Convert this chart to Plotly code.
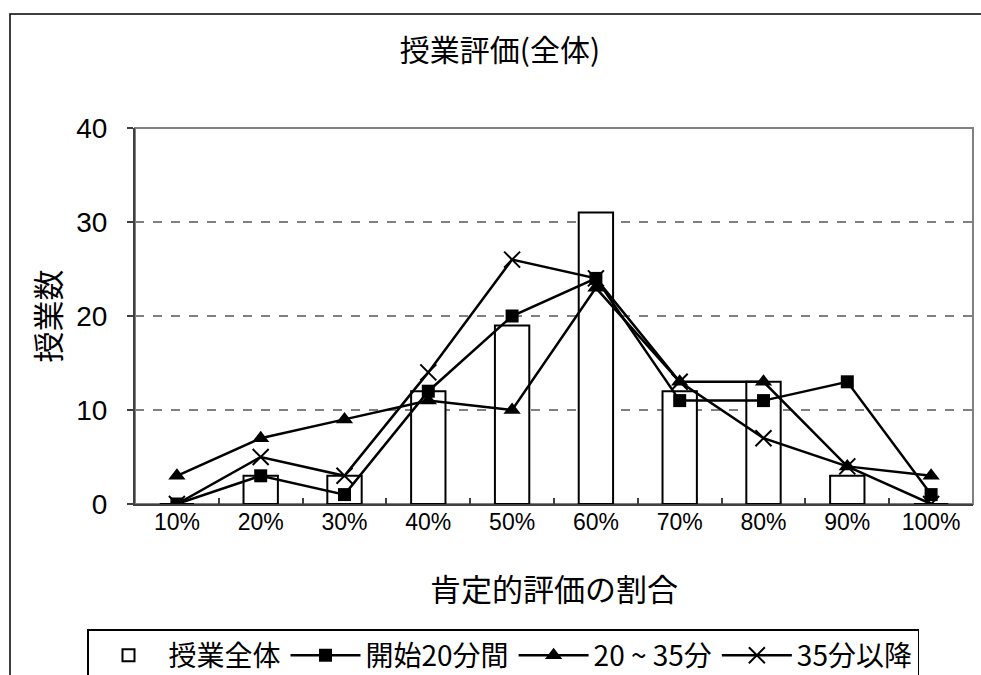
import plotly.graph_objects as go

# Share of positive evaluations (category axis)
categories = ["10%", "20%", "30%", "40%", "50%", "60%", "70%", "80%", "90%", "100%"]

# Number of classes per category
whole_class = [0, 3, 3, 12, 19, 31, 12, 13, 3, 0]      # 授業全体 (bars)
first_20min = [0, 3, 1, 12, 20, 24, 11, 11, 13, 1]      # 開始20分間
min_20_35 = [3, 7, 9, 11, 10, 23, 13, 13, 4, 3]         # 20 ~ 35分
after_35min = [0, 5, 3, 14, 26, 24, 13, 7, 4, 0]        # 35分以降

y_ticks = [0, 10, 20, 30, 40]

FONT = "Liberation Sans, Arial, Noto Sans CJK JP, sans-serif"
CJK = "Noto Sans CJK JP, Liberation Sans, sans-serif"

W, H = 981, 675
L, R, T, B = 135, 8, 128, 171
pw, ph = W - L - R, H - T - B


def px_x(px):
    return (px - L) / pw


def px_y(py):
    return (H - B - py) / ph


fig = go.Figure()

fig.add_trace(go.Bar(
    x=categories, y=whole_class, name="授業全体",
    marker=dict(color="white", line=dict(color="black", width=2)),
    width=0.41,
))

line_style = dict(color="black", width=2.5)
fig.add_trace(go.Scatter(
    x=categories, y=first_20min, name="開始20分間", mode="lines+markers",
    line=line_style, marker=dict(symbol="square", size=13, color="black"),
))
fig.add_trace(go.Scatter(
    x=categories, y=min_20_35, name="20 ~ 35分", mode="lines+markers",
    line=line_style, marker=dict(symbol="triangle-up", size=15, color="black"),
))
fig.add_trace(go.Scatter(
    x=categories, y=after_35min, name="35分以降", mode="lines+markers",
    line=line_style,
    marker=dict(symbol="x-thin-open", size=16, color="black",
                line=dict(color="black", width=2)),
))

# Outer chart border (runs off the right and bottom edge of the page)
fig.add_shape(type="rect", xref="paper", yref="paper",
              x0=px_x(10), x1=px_x(995), y0=px_y(700), y1=px_y(14),
              line=dict(color="black", width=1.5), layer="below")
# Plot area frame
fig.add_shape(type="rect", xref="paper", yref="paper",
              x0=0, x1=1, y0=0, y1=1,
              line=dict(color="#808080", width=2), layer="below")

fig.update_layout(
    width=W, height=H,
    margin=dict(l=L, r=R, t=T, b=B, autoexpand=False),
    paper_bgcolor="white", plot_bgcolor="white",
    font=dict(family=FONT, color="black"),
    title=dict(text="授業評価(全体)", font=dict(family=CJK, size=30),
               xref="container", x=500 / W, xanchor="center",
               yref="container", y=1 - 50 / H, yanchor="middle"),
    showlegend=True,
    legend=dict(orientation="h", xanchor="center", yanchor="top",
                xref="container", x=503 / W, y=px_y(629),
                font=dict(family=CJK, size=28),
                bordercolor="black", borderwidth=1.5,
                bgcolor="white", traceorder="normal",
                itemwidth=70),
    bargap=0.5,
)

fig.update_xaxes(
    type="category", categoryorder="array", categoryarray=categories,
    range=[-0.5, len(categories) - 0.5],
    showline=True, linecolor="#404040", linewidth=2,
    ticks="inside", tickson="boundaries", ticklen=6, tickcolor="#404040",
    tickwidth=1.5,
    tickfont=dict(family=FONT, size=23),
    ticklabelstandoff=-4,
    showgrid=False, zeroline=False,
    title=dict(text="肯定的評価の割合", font=dict(family=CJK, size=31),
               standoff=46),
    automargin=False,
)

fig.update_yaxes(
    range=[0, 40], tickvals=y_ticks, ticktext=[str(v) for v in y_ticks],
    showline=True, linecolor="#404040", linewidth=2,
    ticks="outside", ticklen=6, tickcolor="#404040", tickwidth=1.5,
    tickfont=dict(family=FONT, size=28),
    ticklabelstandoff=14,
    showgrid=True, gridcolor="#808080", gridwidth=1.5, griddash="dash",
    zeroline=False,
    title=dict(text="授業数", font=dict(family=CJK, size=31), standoff=6),
    automargin=False,
)

fig.write_html("out.html")
